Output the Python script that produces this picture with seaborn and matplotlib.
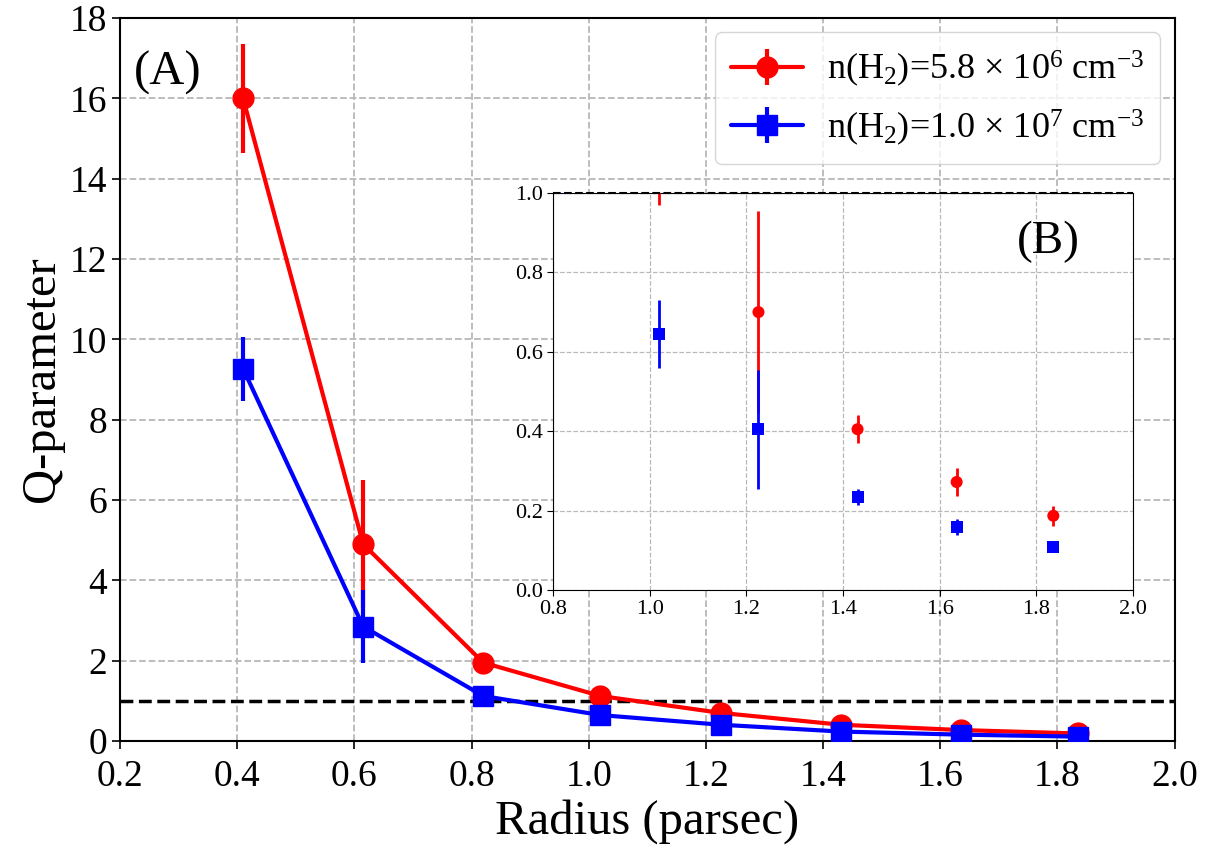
import numpy as np
import matplotlib
matplotlib.use("Agg")
import matplotlib.pyplot as plt
import seaborn as sns
import pandas as pd

radius = [0.41, 0.615, 0.82, 1.02, 1.225, 1.43, 1.635, 1.835]
q_red = [16.0, 4.9, 1.95, 1.12, 0.70, 0.405, 0.272, 0.187]
err_red = [1.35, 1.6, 0.2, 0.15, 0.255, 0.035, 0.035, 0.025]
q_blue = [9.27, 2.85, 1.12, 0.645, 0.405, 0.235, 0.158, 0.108]
err_blue = [0.8, 0.9, 0.12, 0.085, 0.15, 0.02, 0.02, 0.01]
label_red = r'n(H$_2$)=5.8 $\times$ 10$^6$ cm$^{-3}$'
label_blue = r'n(H$_2$)=1.0 $\times$ 10$^7$ cm$^{-3}$'

sns.set_style("ticks")
plt.rcParams['font.family'] = ['Liberation Serif', 'DejaVu Serif']
plt.rcParams['mathtext.fontset'] = 'custom'
plt.rcParams['mathtext.rm'] = 'Liberation Serif'
plt.rcParams['mathtext.it'] = 'Liberation Serif:italic'
for k in ['text.color', 'axes.labelcolor', 'xtick.color', 'ytick.color', 'axes.edgecolor']:
    plt.rcParams[k] = 'black'

df = pd.DataFrame({"radius": radius * 2,
                   "q": q_red + q_blue,
                   "series": [label_red] * len(radius) + [label_blue] * len(radius)})

fig = plt.figure(figsize=(12.16, 8.52), dpi=100)
ax = fig.add_axes([0.0987, 0.1303, 0.8673, 0.8486])

ax.errorbar(radius, q_red, yerr=err_red, fmt='-o', color='red', lw=3,
            elinewidth=3, ms=15, label=label_red, zorder=3)
ax.errorbar(radius, q_blue, yerr=err_blue, fmt='-s', color='blue', lw=3,
            elinewidth=3, ms=15, label=label_blue, zorder=4)
ax.axhline(1.0, color='black', ls='--', lw=2.5, zorder=2)

ax.set_xlim(0.2, 2.0)
ax.set_ylim(0, 18)
ax.set_xticks(np.arange(0.2, 2.01, 0.2))
ax.set_yticks(np.arange(0, 18.1, 2))
ax.xaxis.set_major_formatter(matplotlib.ticker.FormatStrFormatter('%.1f'))
ax.grid(True, ls='--', color='#b8b8b8', lw=1.3)
ax.tick_params(labelsize=27, direction='out', length=6, width=1.2)
ax.tick_params(axis='x', pad=7)
ax.set_xlabel('Radius (parsec)', fontsize=35)
ax.set_ylabel('Q-parameter', fontsize=35)
for s in ax.spines.values():
    s.set_linewidth(1.5)
ax.text(0.013, 0.955, '(A)', transform=ax.transAxes, fontsize=35, va='top', ha='left')
ax.legend(loc='upper right', fontsize=26, handlelength=2.0, borderpad=0.45,
          labelspacing=0.5, handletextpad=0.65, framealpha=0.8, borderaxespad=0.4)

# inset
ins = fig.add_axes([0.4548, 0.3075, 0.477, 0.466])
sns.scatterplot(data=df[df.series == label_red], x="radius", y="q", color='red',
                marker='o', s=75, edgecolor='none', ax=ins, zorder=3, legend=False)
sns.scatterplot(data=df[df.series == label_blue], x="radius", y="q", color='blue',
                marker='s', s=75, edgecolor='none', ax=ins, zorder=4, legend=False)
ins.errorbar(radius, q_red, yerr=err_red, fmt='none', ecolor='red', elinewidth=2, zorder=3)
ins.errorbar(radius, q_blue, yerr=err_blue, fmt='none', ecolor='blue', elinewidth=2, zorder=4)
ins.axhline(1.0, color='black', ls='--', lw=1.5, zorder=5, clip_on=False)
ins.set_xlim(0.8, 2.0)
ins.set_ylim(0.0, 1.0)
ins.set_xticks(np.arange(0.8, 2.01, 0.2))
ins.set_yticks(np.arange(0, 1.01, 0.2))
ins.xaxis.set_major_formatter(matplotlib.ticker.FormatStrFormatter('%.1f'))
ins.yaxis.set_major_formatter(matplotlib.ticker.FormatStrFormatter('%.1f'))
ins.grid(True, ls='--', color='#b8b8b8', lw=0.9)
ins.tick_params(labelsize=16, direction='out', length=4)
ins.set_xlabel('')
ins.set_ylabel('')
ins.text(0.909, 0.877, '(B)', transform=ins.transAxes, fontsize=34, va='center', ha='right')

fig.savefig('out.png', dpi=100)
